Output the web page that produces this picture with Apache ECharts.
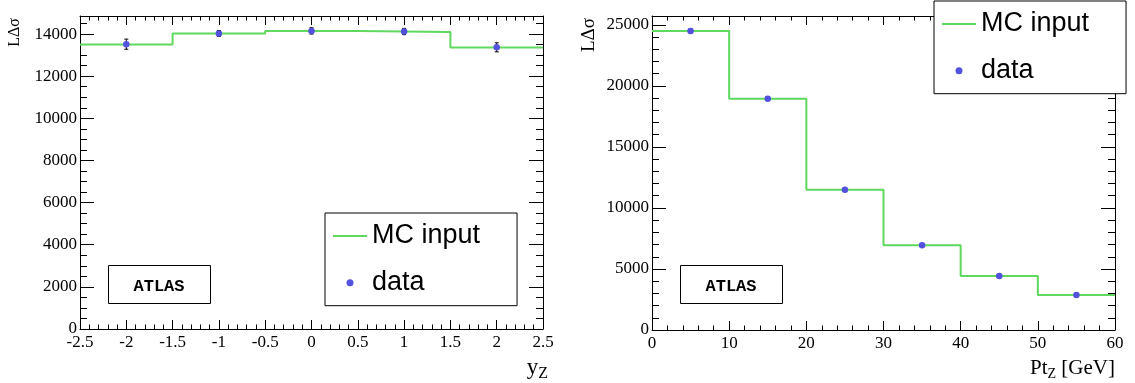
<!DOCTYPE html>
<html><head><meta charset="utf-8">
<script src="https://cdn.jsdelivr.net/npm/echarts@6/dist/echarts.min.js"></script>
<style>html,body{margin:0;padding:0;background:#fff}#c{width:1135px;height:383px}</style>
</head><body><div id="c"></div>
<script>
// ---- data ----
const rapEdges = [-2.5, -1.5, -0.5, 0.5, 1.5, 2.5];
const rapMC    = [13500, 14030, 14150, 14100, 13360];
const rapX     = [-2, -1, 0, 1, 2];
const rapData  = [13520, 14030, 14150, 14120, 13370];
const rapErr   = [240, 140, 150, 150, 215];

const ptEdges = [0, 10, 20, 30, 40, 50, 60];
const ptMC    = [24500, 18950, 11480, 6950, 4420, 2870];
const ptX     = [5, 15, 25, 35, 45, 55];
const ptData  = [24500, 18950, 11480, 6950, 4420, 2870];
const ptErr   = [160, 140, 110, 85, 65, 55];

const rapAxis = [-2.5, 2.5, 0.5];       // min, max, major step
const rapYAxis = [0, 14857, 2000, 500];  // min, max, major, minor
const ptAxis = [0, 60, 10];
const ptYAxis = [0, 25725, 5000, 1000];

const legendNames = ['MC input', 'data'];
const yTitle = 'LΔσ';

// ---- styling ----
const GREEN = '#5ed85e';
const BLUE = '#5252de';
const SERIF = 'Liberation Serif';

function steps(edges, vals) {
  const out = [];
  vals.forEach((v, i) => { out.push([edges[i], v]); out.push([edges[i + 1], v]); });
  return out;
}

function xAxes(g, ax) {
  const base = {
    type: 'value', gridIndex: g, min: ax[0], max: ax[1], interval: ax[2],
    axisLine: { show: true, onZero: false, lineStyle: { color: '#000', width: 1 } },
    axisTick: { show: true, inside: true, length: 9, lineStyle: { color: '#000' } },
    minorTick: { show: true, splitNumber: 5, length: 4.5, lineStyle: { color: '#000' } },
    splitLine: { show: false }, minorSplitLine: { show: false }
  };
  return [
    Object.assign({}, base, { position: 'bottom',
      axisLabel: { margin: 5, color: '#000', fontFamily: SERIF, fontSize: 17 } }),
    Object.assign({}, base, { position: 'top', axisLabel: { show: false } })
  ];
}

function yAxes(g, ax) {
  const mk = (pos, interval, len, line, label) => ({
    type: 'value', gridIndex: g, position: pos, min: ax[0], max: ax[1], interval: interval,
    axisLine: { show: line, onZero: false, lineStyle: { color: '#000', width: 1 } },
    axisTick: { show: true, inside: true, length: len, lineStyle: { color: '#000' } },
    splitLine: { show: false },
    axisLabel: label ? { show: true, margin: 3, color: '#000', fontFamily: SERIF, fontSize: 17,
      formatter: v => (Math.abs(v % ax[2]) < 1e-6 ? String(v) : '') } : { show: false }
  });
  return [
    mk('left', ax[2], 14, true, true),
    mk('left', ax[3], 7, false, false),
    mk('right', ax[2], 14, true, false),
    mk('right', ax[3], 7, false, false)
  ];
}

function errRender(params, api) {
  const x = api.value(0), y = api.value(1), e = api.value(2);
  const t = api.coord([x, y + e]), b = api.coord([x, y - e]);
  const st = { stroke: '#000', lineWidth: 1 };
  return { type: 'group', children: [
    { type: 'line', shape: { x1: t[0], y1: t[1], x2: b[0], y2: b[1] }, style: st },
    { type: 'line', shape: { x1: t[0] - 2, y1: t[1], x2: t[0] + 2, y2: t[1] }, style: st },
    { type: 'line', shape: { x1: b[0] - 2, y1: b[1], x2: b[0] + 2, y2: b[1] }, style: st }
  ] };
}

function panelSeries(xi, yi, edges, mc, xs, vals, errs) {
  return [
    { name: legendNames[0], type: 'line', xAxisIndex: xi, yAxisIndex: yi, data: steps(edges, mc),
      symbol: 'none', lineStyle: { color: GREEN, width: 2 }, itemStyle: { color: GREEN }, z: 2 },
    { name: 'err', type: 'custom', xAxisIndex: xi, yAxisIndex: yi, encode: { x: 0, y: 1 },
      data: xs.map((x, i) => [x, vals[i], errs[i]]), renderItem: errRender, z: 3 },
    { name: legendNames[1], type: 'scatter', xAxisIndex: xi, yAxisIndex: yi,
      data: xs.map((x, i) => [x, vals[i]]), symbolSize: 6.5, itemStyle: { color: BLUE, opacity: 1 }, z: 4 }
  ];
}

function legendAt(left, top) {
  return {
    data: [{ name: legendNames[0], itemStyle: { opacity: 0 } }, { name: legendNames[1] }],
    left: left, top: top, orient: 'vertical', selectedMode: false,
    itemWidth: 34, itemHeight: 7, itemGap: 16.7, padding: [8, 37, 8, 7],
    borderColor: '#000', borderWidth: 1, backgroundColor: '#fff', borderRadius: 0,
    textStyle: { color: '#000', fontFamily: 'Liberation Sans', fontSize: 27, lineHeight: 30 }
  };
}

function atlasBox(x, y) {
  return [
    { type: 'rect', shape: { x: x + 0.5, y: y + 0.5, width: 102, height: 38 },
      style: { fill: '#fff', stroke: '#000', lineWidth: 1 }, z: 10 },
    { type: 'text', x: x + 51, y: y + 22, z: 11,
      style: { text: 'ATLAS', fontFamily: 'Liberation Mono', fontWeight: 'bold', fontSize: 17,
        fill: '#000', align: 'center', verticalAlign: 'middle' } }
  ];
}

const option = {
  animation: false,
  backgroundColor: '#fff',
  grid: [
    { left: 80, top: 16, width: 463, height: 313 },
    { left: 652, top: 16, width: 463, height: 314 }
  ],
  xAxis: [].concat(xAxes(0, rapAxis), xAxes(1, ptAxis)),
  yAxis: [].concat(yAxes(0, rapYAxis), yAxes(1, ptYAxis)),
  legend: [legendAt(325, 213), legendAt(934, 1)],
  series: [].concat(
    panelSeries(0, 0, rapEdges, rapMC, rapX, rapData, rapErr),
    panelSeries(2, 4, ptEdges, ptMC, ptX, ptData, ptErr)
  ),
  graphic: [].concat(
    atlasBox(108, 265), atlasBox(680, 265),
    [
      { type: 'text', x: 15, y: 18, rotation: Math.PI / 2,
        style: { text: yTitle, fontFamily: SERIF, fontSize: 16, fill: '#000', align: 'right', verticalAlign: 'middle' } },
      { type: 'text', x: 589, y: 18, rotation: Math.PI / 2,
        style: { text: yTitle, fontFamily: SERIF, fontSize: 19, fill: '#000', align: 'right', verticalAlign: 'middle' } },
      { type: 'text', x: 548, y: 382,
        style: { text: '{m|y}{s|Z}', align: 'right', verticalAlign: 'bottom', fill: '#000',
          rich: { m: { fontFamily: SERIF, fontSize: 23, fill: '#000' },
                  s: { fontFamily: SERIF, fontSize: 16, fill: '#000', padding: [12, 0, 0, 0] } } } },
      { type: 'text', x: 1115, y: 381,
        style: { text: '{m|Pt}{s|Z}{m| [GeV]}', align: 'right', verticalAlign: 'bottom', fill: '#000',
          rich: { m: { fontFamily: SERIF, fontSize: 21, fill: '#000' },
                  s: { fontFamily: SERIF, fontSize: 14, fill: '#000', padding: [12, 0, 0, 0] } } } }
    ]
  )
};

const chart = echarts.init(document.getElementById('c'), null, { renderer: 'canvas' });
chart.setOption(option);
</script>
</body></html>
